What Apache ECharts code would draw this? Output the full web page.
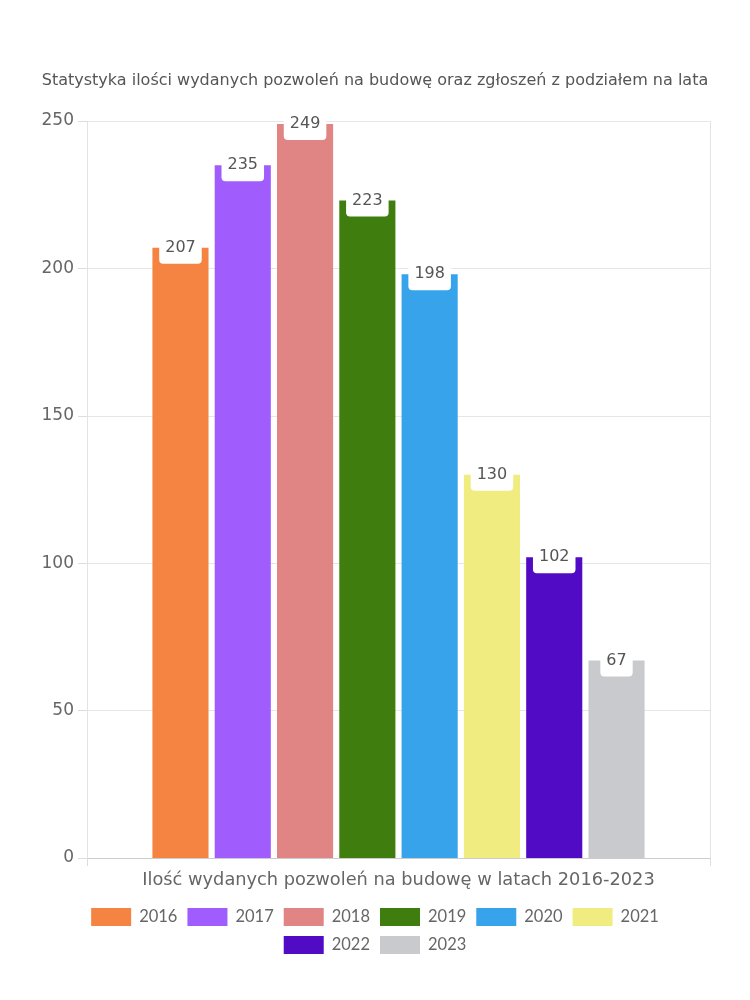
<!DOCTYPE html>
<html>
<head>
<meta charset="utf-8">
<script src="https://cdn.jsdelivr.net/npm/echarts@6/dist/echarts.min.js"></script>
<style>
html,body{margin:0;padding:0;background:#fff;}
#chart{width:750px;height:1000px;}
</style>
</head>
<body>
<div id="chart"></div>
<script>
const titleText = 'Statystyka ilości wydanych pozwoleń na budowę oraz zgłoszeń z podziałem na lata';
const categories = ['Ilość wydanych pozwoleń na budowę w latach 2016-2023'];
const years = ['2016', '2017', '2018', '2019', '2020', '2021', '2022', '2023'];
const values = [207, 235, 249, 223, 198, 130, 102, 67];
const colors = ['#F58442', '#A05CFD', '#E08484', '#3F7D0E', '#37A3EB', '#F0EC7F', '#510BC4', '#C9CACE'];
const yTicks = [0, 50, 100, 150, 200, 250];
const legendRow1 = years.slice(0, 6);
const legendRow2 = years.slice(6);

const FONT = 'DejaVu Sans';
const chart = echarts.init(document.getElementById('chart'), null, {renderer: 'canvas'});
const series = years.map((y, i) => ({
  name: y,
  type: 'bar',
  data: [values[i]],
  itemStyle: {color: colors[i]},
  barGap: '11%',
  barCategoryGap: '21%',
  label: {
    show: true,
    position: 'insideTop',
    distance: 0,
    offset: [0, -12],
    color: '#555',
    fontFamily: FONT,
    fontSize: 16,
    lineHeight: 16,
    backgroundColor: '#fff',
    borderRadius: 4,
    padding: [4, 6, 8, 6]
  }
}));

const legendBase = {
  left: 'center',
  itemWidth: 40,
  itemHeight: 18,
  itemGap: 10,
  icon: 'rect',
  textStyle: {color: '#666', fontSize: 16.5, fontFamily: 'Lato', padding: [0, 0, 0, 3]}
};

chart.setOption({
  animation: false,
  textStyle: {fontFamily: FONT},
  title: {
    text: titleText,
    left: 'center',
    top: 68,
    textStyle: {color: '#555', fontSize: 16, fontWeight: 'normal', fontFamily: FONT}
  },
  legend: [
    Object.assign({}, legendBase, {data: legendRow1, top: 903}),
    Object.assign({}, legendBase, {data: legendRow2, top: 931})
  ],
  grid: {left: 87, right: 40, top: 121, bottom: 142, containLabel: false},
  xAxis: {
    type: 'category',
    data: categories,
    axisLine: {show: true, lineStyle: {color: '#ccc'}},
    axisTick: {show: true, length: 8, lineStyle: {color: '#ddd'}},
    splitLine: {show: true, lineStyle: {color: '#e3e3e3'}},
    axisLabel: {color: '#666', fontSize: 17.8, margin: 13, fontFamily: FONT}
  },
  yAxis: {
    type: 'value',
    min: yTicks[0],
    max: yTicks[yTicks.length - 1],
    interval: 50,
    axisLine: {show: false},
    axisTick: {show: true, length: 9, lineStyle: {color: '#ddd'}},
    splitLine: {show: true, lineStyle: {color: '#e6e6e6'}},
    axisLabel: {color: '#666', fontSize: 17, margin: 13, fontFamily: FONT}
  },
  series: series
});
</script>
</body>
</html>
